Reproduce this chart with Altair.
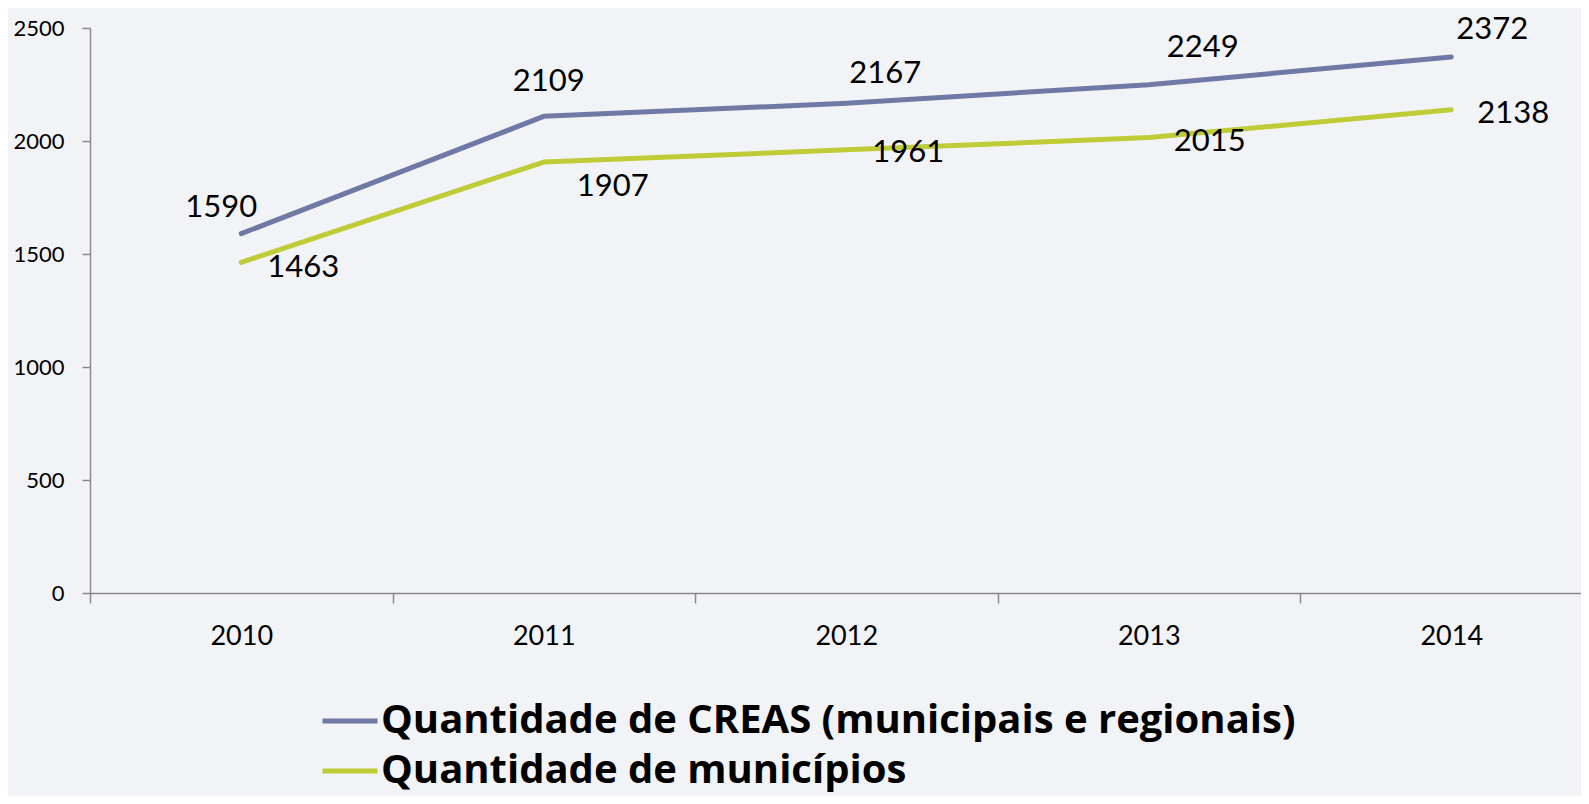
import altair as alt
import pandas as pd

# ---- data ----
years = ["2010", "2011", "2012", "2013", "2014"]
creas = [1590, 2109, 2167, 2249, 2372]
municipios = [1463, 1907, 1961, 2015, 2138]
series_names = [
    "Quantidade de CREAS (municipais e regionais)",
    "Quantidade de municípios",
]
y_ticks = [0, 500, 1000, 1500, 2000, 2500]

rows = []
for name, vals in zip(series_names, [creas, municipios]):
    for yr, v in zip(years, vals):
        rows.append({"ano": yr, "valor": v, "serie": name})
df = pd.DataFrame(rows)

# ---- style ----
FONT = "Lato"
LEGEND_FONT = "Open Sans"
colors = ["#6f79a6", "#bfcc37"]
AXIS_GRAY = "#8a8a8a"

x_enc = alt.X(
    "ano:O",
    sort=years,
    scale=alt.Scale(type="band", paddingInner=0, paddingOuter=0, range=[0, 1512.5]),
    axis=alt.Axis(
        title=None, labelAngle=0, tickBand="extent", labelFontSize=27,
        labelPadding=20, tickSize=10, grid=False,
    ),
)
y_enc = alt.Y(
    "valor:Q",
    scale=alt.Scale(domain=[0, 2500], nice=False, zero=True),
    axis=alt.Axis(
        title=None, values=y_ticks, format="d", labelFontSize=22, labelPadding=18,
        tickSize=8, grid=False,
    ),
)

line = alt.Chart(df).mark_line(
    strokeWidth=5, strokeCap="round", strokeJoin="round"
).encode(
    x=x_enc,
    y=y_enc,
    color=alt.Color(
        "serie:N",
        sort=series_names,
        scale=alt.Scale(domain=series_names, range=colors),
        legend=alt.Legend(
            title=None, orient="none", legendX=230, legendY=663,
            direction="vertical", symbolType="stroke", symbolSize=3025,
            symbolStrokeWidth=5, labelFontSize=40, labelFontWeight="bold",
            labelFont=LEGEND_FONT, labelColor="black", labelLimit=0, labelOffset=1,
            rowPadding=0, padding=0,
        ),
    ),
)

# per-label offsets (Excel-style manual label placement)
offsets = {
    series_names[0]: [(-20, -26), (5, -34), (39, -29), (54, -37), (41, -27)],
    series_names[1]: [(62, 6), (69, 25), (62, 3), (61, 4), (62, 4)],
}

texts = []
for name in series_names:
    for i, yr in enumerate(years):
        dx, dy = offsets[name][i]
        t = alt.Chart(df).transform_filter(
            (alt.datum.serie == name) & (alt.datum.ano == yr)
        ).mark_text(
            dx=dx, dy=dy, align="center", baseline="middle",
            font=FONT, fontSize=31, color="black",
        ).encode(
            x=x_enc, y=y_enc, text=alt.Text("valor:Q", format="d")
        )
        texts.append(t)

chart = alt.layer(line, *texts).properties(
    width=1491,
    height=565,
    autosize=alt.AutoSizeParams(type="none"),
    padding={"left": 82, "top": 20, "right": 0, "bottom": 203},
    background="#f2f3f6",
).configure_view(
    stroke=None
).configure_axis(
    labelFont=FONT, labelColor="black", domainColor=AXIS_GRAY, domainWidth=1.5,
    tickColor=AXIS_GRAY, tickWidth=1.5,
)

chart.save("out.html", embed_options={"renderer": "svg", "actions": False})
